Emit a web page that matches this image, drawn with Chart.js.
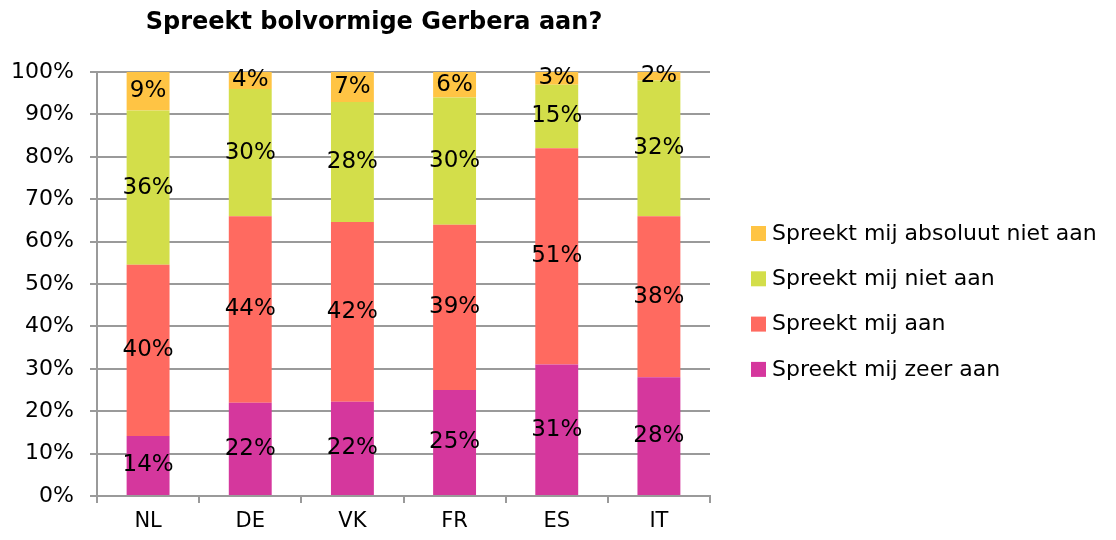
<!DOCTYPE html>
<html>
<head>
<meta charset="utf-8">
<script src="https://cdn.jsdelivr.net/npm/chart.js@4.4.0/dist/chart.umd.min.js"></script>
<style>
  html, body { margin: 0; padding: 0; background: #fff; }
</style>
</head>
<body>
<canvas id="chart" width="1116" height="540"></canvas>
<script>
const landen = ["NL", "DE", "VK", "FR", "ES", "IT"];
const zeerAan = [14, 22, 22, 25, 31, 28];
const aan = [40, 44, 42, 39, 51, 38];
const nietAan = [36, 30, 28, 30, 15, 32];
const absoluutNiet = [9, 4, 7, 6, 3, 2];
const reeksNamen = ["Spreekt mij zeer aan", "Spreekt mij aan", "Spreekt mij niet aan", "Spreekt mij absoluut niet aan"];
const kleuren = ["#d5379d", "#ff6a60", "#d3de4a", "#ffc444"];
const titel = "Spreekt bolvormige Gerbera aan?";

const FONT = "'DejaVu Sans', sans-serif";
const GRID = "#9a9a9a";

// 100% gestapeld: elke balk wordt naar zijn totaal geschaald
const reeksen = [zeerAan, aan, nietAan, absoluutNiet];
const totalen = landen.map((_, i) => reeksen.reduce((s, r) => s + r[i], 0));

const datasets = reeksen.map((r, k) => ({
  label: reeksNamen[k],
  data: r.map((v, i) => v / totalen[i] * 100),
  raw: r,
  backgroundColor: kleuren[k],
  borderWidth: 0,
  categoryPercentage: 1,
  barPercentage: 0.42
}));

const labelPlugin = {
  id: "segmentLabels",
  afterDatasetsDraw(chart) {
    const ctx = chart.ctx;
    ctx.save();
    ctx.font = "23px " + FONT;
    ctx.fillStyle = "#000";
    ctx.textAlign = "center";
    ctx.textBaseline = "middle";
    chart.data.datasets.forEach((ds, k) => {
      chart.getDatasetMeta(k).data.forEach((el, i) => {
        ctx.fillText(ds.raw[i] + "%", el.x, (el.y + el.base) / 2);
      });
    });
    ctx.restore();
  }
};

const titleLegendPlugin = {
  id: "titleLegend",
  afterDraw(chart) {
    const ctx = chart.ctx;
    ctx.save();
    ctx.fillStyle = "#000";
    ctx.font = "bold 24px " + FONT;
    ctx.textAlign = "center";
    ctx.textBaseline = "middle";
    ctx.fillText(titel, 374, 23);

    // legenda, bovenste reeks eerst
    ctx.font = "22px " + FONT;
    ctx.textAlign = "left";
    const n = chart.data.datasets.length;
    for (let j = 0; j < n; j++) {
      const ds = chart.data.datasets[n - 1 - j];
      const y = 233 + j * 45.3;
      ctx.fillStyle = ds.backgroundColor;
      ctx.fillRect(751, y - 7, 15, 15);
      ctx.fillStyle = "#000";
      ctx.fillText(ds.label, 772, y + 1);
    }
    ctx.restore();
  }
};

new Chart(document.getElementById("chart"), {
  type: "bar",
  data: { labels: landen, datasets: datasets },
  options: {
    responsive: false,
    animation: false,
    layout: { padding: { top: 72, right: 406, bottom: 0, left: 0 } },
    plugins: {
      legend: { display: false },
      title: { display: false },
      tooltip: { enabled: false }
    },
    scales: {
      x: {
        stacked: true,
        grid: {
          offset: true,
          drawOnChartArea: false,
          drawTicks: true,
          tickLength: 7,
          color: GRID,
          lineWidth: 2
        },
        border: { display: true, color: GRID, width: 2 },
        ticks: { color: "#000", font: { family: FONT, size: 21 }, padding: 6 },
        afterFit(scale) { scale.height = 44; }
      },
      y: {
        stacked: true,
        min: 0,
        max: 100,
        grid: { color: GRID, lineWidth: 2, tickLength: 7 },
        border: { display: true, color: GRID, width: 2 },
        ticks: {
          stepSize: 10,
          color: "#000",
          font: { family: FONT, size: 22 },
          padding: 16,
          callback: v => v + "%"
        },
        afterFit(scale) { scale.width = 97; }
      }
    }
  },
  plugins: [labelPlugin, titleLegendPlugin]
});
</script>
</body>
</html>
